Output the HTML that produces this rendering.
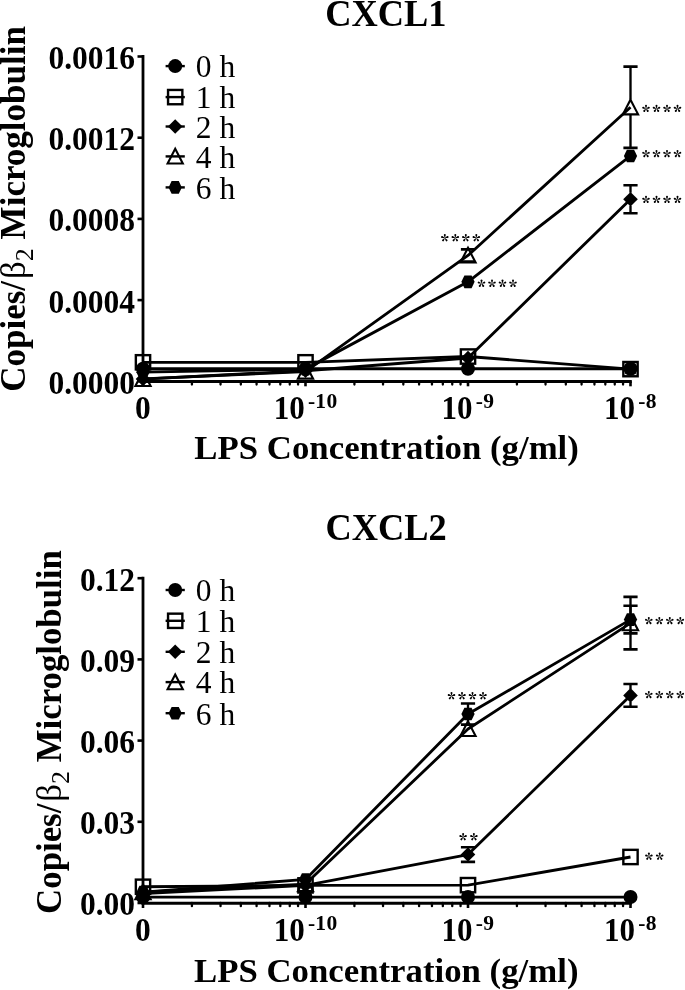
<!DOCTYPE html>
<html><head><meta charset="utf-8"><style>
*{margin:0;padding:0}
body{background:#fff;width:685px;height:990px;overflow:hidden}
svg{display:block;filter:grayscale(1)}
text{font-family:"Liberation Serif",serif;fill:#000}
.ti{font-weight:bold;font-size:36.4px}
.tk{font-weight:bold;font-size:31.5px}
.sup{font-weight:bold;font-size:21.5px}
.xl{font-weight:bold;font-size:34.8px}
.yl{font-weight:bold;font-size:35px}
.lg{font-size:31.5px}
</style></head>
<body><svg width="685" height="990" viewBox="0 0 685 990">
<rect width="685" height="990" fill="#fff"/>
<defs><g id="ast"><path d="M0.15 -0.2L1 -2.9A1.0 1.0 0 1 0 -1 -2.9L-0.15 -0.2Z" fill="#000"/><path d="M0.24 0.08L3.07 0.05A1.0 1.0 0 1 0 2.45 -1.85L0.14 -0.2Z" fill="#000"/><path d="M-0 0.25L0.9 2.93A1.0 1.0 0 1 0 2.51 1.76L0.24 0.07Z" fill="#000"/><path d="M-0.24 0.07L-2.51 1.76A1.0 1.0 0 1 0 -0.9 2.93L0 0.25Z" fill="#000"/><path d="M-0.14 -0.2L-2.45 -1.85A1.0 1.0 0 1 0 -3.07 0.05L-0.24 0.08Z" fill="#000"/></g></defs>
<path d="M143 55.1V382.7" stroke="#000" stroke-width="2.8" fill="none"/>
<path d="M137.5 381.3H143" stroke="#000" stroke-width="2.6"/>
<path d="M137.5 300.1H143" stroke="#000" stroke-width="2.6"/>
<path d="M137.5 218.9H143" stroke="#000" stroke-width="2.6"/>
<path d="M137.5 137.7H143" stroke="#000" stroke-width="2.6"/>
<path d="M137.5 56.5H143" stroke="#000" stroke-width="2.6"/>
<path d="M141.6 381.5H631.8" stroke="#000" stroke-width="2.9"/>
<path d="M143 381.3V386.3" stroke="#000" stroke-width="2.6"/>
<path d="M305.5 381.3V386.3" stroke="#000" stroke-width="2.6"/>
<path d="M468 381.3V386.3" stroke="#000" stroke-width="2.6"/>
<path d="M630.5 381.3V386.3" stroke="#000" stroke-width="2.6"/>
<path d="M191.92 381.3V384.5" stroke="#000" stroke-width="2.3" stroke-linecap="round"/>
<path d="M220.53 381.3V384.5" stroke="#000" stroke-width="2.3" stroke-linecap="round"/>
<path d="M240.83 381.3V384.5" stroke="#000" stroke-width="2.3" stroke-linecap="round"/>
<path d="M256.58 381.3V384.5" stroke="#000" stroke-width="2.3" stroke-linecap="round"/>
<path d="M269.45 381.3V384.5" stroke="#000" stroke-width="2.3" stroke-linecap="round"/>
<path d="M280.33 381.3V384.5" stroke="#000" stroke-width="2.3" stroke-linecap="round"/>
<path d="M289.75 381.3V384.5" stroke="#000" stroke-width="2.3" stroke-linecap="round"/>
<path d="M298.06 381.3V384.5" stroke="#000" stroke-width="2.3" stroke-linecap="round"/>
<path d="M354.42 381.3V384.5" stroke="#000" stroke-width="2.3" stroke-linecap="round"/>
<path d="M383.03 381.3V384.5" stroke="#000" stroke-width="2.3" stroke-linecap="round"/>
<path d="M403.33 381.3V384.5" stroke="#000" stroke-width="2.3" stroke-linecap="round"/>
<path d="M419.08 381.3V384.5" stroke="#000" stroke-width="2.3" stroke-linecap="round"/>
<path d="M431.95 381.3V384.5" stroke="#000" stroke-width="2.3" stroke-linecap="round"/>
<path d="M442.83 381.3V384.5" stroke="#000" stroke-width="2.3" stroke-linecap="round"/>
<path d="M452.25 381.3V384.5" stroke="#000" stroke-width="2.3" stroke-linecap="round"/>
<path d="M460.56 381.3V384.5" stroke="#000" stroke-width="2.3" stroke-linecap="round"/>
<path d="M516.92 381.3V384.5" stroke="#000" stroke-width="2.3" stroke-linecap="round"/>
<path d="M545.53 381.3V384.5" stroke="#000" stroke-width="2.3" stroke-linecap="round"/>
<path d="M565.83 381.3V384.5" stroke="#000" stroke-width="2.3" stroke-linecap="round"/>
<path d="M581.58 381.3V384.5" stroke="#000" stroke-width="2.3" stroke-linecap="round"/>
<path d="M594.45 381.3V384.5" stroke="#000" stroke-width="2.3" stroke-linecap="round"/>
<path d="M605.33 381.3V384.5" stroke="#000" stroke-width="2.3" stroke-linecap="round"/>
<path d="M614.75 381.3V384.5" stroke="#000" stroke-width="2.3" stroke-linecap="round"/>
<path d="M623.06 381.3V384.5" stroke="#000" stroke-width="2.3" stroke-linecap="round"/>
<polyline points="143,368.71 305.5,368.71 468,368.71 630.5,368.71" fill="none" stroke="#000" stroke-width="2.85" stroke-linejoin="round"/>
<circle cx="143" cy="368.71" r="7" fill="#000"/>
<circle cx="305.5" cy="368.71" r="7" fill="#000"/>
<circle cx="468" cy="368.71" r="7" fill="#000"/>
<circle cx="630.5" cy="368.71" r="7" fill="#000"/>
<polyline points="143,362.3 305.5,362.3 468,356.53 630.5,369.12" fill="none" stroke="#000" stroke-width="2.85" stroke-linejoin="round"/>
<rect x="135.85" y="355.15" width="14.3" height="14.3" fill="none" stroke="#000" stroke-width="2.4"/>
<rect x="298.35" y="355.15" width="14.3" height="14.3" fill="none" stroke="#000" stroke-width="2.4"/>
<rect x="460.85" y="349.38" width="14.3" height="14.3" fill="none" stroke="#000" stroke-width="2.4"/>
<rect x="623.35" y="361.97" width="14.3" height="14.3" fill="none" stroke="#000" stroke-width="2.4"/>
<polyline points="143,379.07 305.5,370.74 468,357.96 630.5,199.21" fill="none" stroke="#000" stroke-width="2.85" stroke-linejoin="round"/>
<path d="M630.5 185.2V192.71M630.5 205.71V213.22" stroke="#000" stroke-width="2.35" fill="none"/>
<path d="M623.4 185.2H637.6M623.4 213.22H637.6" stroke="#000" stroke-width="2.6" fill="none"/>
<path d="M143 371.77L150.3 379.07L143 386.37L135.7 379.07Z" fill="#000"/>
<path d="M305.5 363.44L312.8 370.74L305.5 378.04L298.2 370.74Z" fill="#000"/>
<path d="M468 350.66L475.3 357.96L468 365.26L460.7 357.96Z" fill="#000"/>
<path d="M630.5 191.91L637.8 199.21L630.5 206.51L623.2 199.21Z" fill="#000"/>
<polyline points="143,378.86 305.5,371.56 468,255.44 630.5,107.25" fill="none" stroke="#000" stroke-width="2.85" stroke-linejoin="round"/>
<path d="M468 249.35V247.64M468 262.94V261.53" stroke="#000" stroke-width="2.35" fill="none"/>
<path d="M460.9 249.35H475.1M460.9 261.53H475.1" stroke="#000" stroke-width="2.6" fill="none"/>
<path d="M630.5 66.65V99.45M630.5 114.75V147.85" stroke="#000" stroke-width="2.35" fill="none"/>
<path d="M623.4 66.65H637.6M623.4 147.85H637.6" stroke="#000" stroke-width="2.6" fill="none"/>
<path d="M143 371.26L150.6 385.96L135.4 385.96Z" fill="none" stroke="#000" stroke-width="2.1"/>
<path d="M305.5 363.96L313.1 378.66L297.9 378.66Z" fill="none" stroke="#000" stroke-width="2.1"/>
<path d="M468 247.84L475.6 262.54L460.4 262.54Z" fill="none" stroke="#000" stroke-width="2.1"/>
<path d="M630.5 99.65L638.1 114.35L622.9 114.35Z" fill="none" stroke="#000" stroke-width="2.1"/>
<polyline points="143,372.17 305.5,369.12 468,281.83 630.5,155.97" fill="none" stroke="#000" stroke-width="2.85" stroke-linejoin="round"/>
<path d="M136.4 372.17L139.4 365.87L146.6 365.87L149.6 372.17L146.6 378.47L139.4 378.47Z" fill="#000"/>
<path d="M298.9 369.12L301.9 362.82L309.1 362.82L312.1 369.12L309.1 375.42L301.9 375.42Z" fill="#000"/>
<path d="M461.4 281.83L464.4 275.53L471.6 275.53L474.6 281.83L471.6 288.13L464.4 288.13Z" fill="#000"/>
<path d="M623.9 155.97L626.9 149.67L634.1 149.67L637.1 155.97L634.1 162.27L626.9 162.27Z" fill="#000"/>
<rect x="625.3" y="363.8" width="10.4" height="10.4" fill="#000"/>
<path d="M143 576.8V904.4" stroke="#000" stroke-width="2.8" fill="none"/>
<path d="M137.5 903H143" stroke="#000" stroke-width="2.6"/>
<path d="M137.5 821.8H143" stroke="#000" stroke-width="2.6"/>
<path d="M137.5 740.6H143" stroke="#000" stroke-width="2.6"/>
<path d="M137.5 659.4H143" stroke="#000" stroke-width="2.6"/>
<path d="M137.5 578.2H143" stroke="#000" stroke-width="2.6"/>
<path d="M141.6 903.2H631.8" stroke="#000" stroke-width="2.9"/>
<path d="M143 903V908" stroke="#000" stroke-width="2.6"/>
<path d="M305.5 903V908" stroke="#000" stroke-width="2.6"/>
<path d="M468 903V908" stroke="#000" stroke-width="2.6"/>
<path d="M630.5 903V908" stroke="#000" stroke-width="2.6"/>
<path d="M191.92 903V906.2" stroke="#000" stroke-width="2.3" stroke-linecap="round"/>
<path d="M220.53 903V906.2" stroke="#000" stroke-width="2.3" stroke-linecap="round"/>
<path d="M240.83 903V906.2" stroke="#000" stroke-width="2.3" stroke-linecap="round"/>
<path d="M256.58 903V906.2" stroke="#000" stroke-width="2.3" stroke-linecap="round"/>
<path d="M269.45 903V906.2" stroke="#000" stroke-width="2.3" stroke-linecap="round"/>
<path d="M280.33 903V906.2" stroke="#000" stroke-width="2.3" stroke-linecap="round"/>
<path d="M289.75 903V906.2" stroke="#000" stroke-width="2.3" stroke-linecap="round"/>
<path d="M298.06 903V906.2" stroke="#000" stroke-width="2.3" stroke-linecap="round"/>
<path d="M354.42 903V906.2" stroke="#000" stroke-width="2.3" stroke-linecap="round"/>
<path d="M383.03 903V906.2" stroke="#000" stroke-width="2.3" stroke-linecap="round"/>
<path d="M403.33 903V906.2" stroke="#000" stroke-width="2.3" stroke-linecap="round"/>
<path d="M419.08 903V906.2" stroke="#000" stroke-width="2.3" stroke-linecap="round"/>
<path d="M431.95 903V906.2" stroke="#000" stroke-width="2.3" stroke-linecap="round"/>
<path d="M442.83 903V906.2" stroke="#000" stroke-width="2.3" stroke-linecap="round"/>
<path d="M452.25 903V906.2" stroke="#000" stroke-width="2.3" stroke-linecap="round"/>
<path d="M460.56 903V906.2" stroke="#000" stroke-width="2.3" stroke-linecap="round"/>
<path d="M516.92 903V906.2" stroke="#000" stroke-width="2.3" stroke-linecap="round"/>
<path d="M545.53 903V906.2" stroke="#000" stroke-width="2.3" stroke-linecap="round"/>
<path d="M565.83 903V906.2" stroke="#000" stroke-width="2.3" stroke-linecap="round"/>
<path d="M581.58 903V906.2" stroke="#000" stroke-width="2.3" stroke-linecap="round"/>
<path d="M594.45 903V906.2" stroke="#000" stroke-width="2.3" stroke-linecap="round"/>
<path d="M605.33 903V906.2" stroke="#000" stroke-width="2.3" stroke-linecap="round"/>
<path d="M614.75 903V906.2" stroke="#000" stroke-width="2.3" stroke-linecap="round"/>
<path d="M623.06 903V906.2" stroke="#000" stroke-width="2.3" stroke-linecap="round"/>
<polyline points="143,897.05 305.5,897.05 468,897.05 630.5,897.05" fill="none" stroke="#000" stroke-width="2.85" stroke-linejoin="round"/>
<circle cx="143" cy="897.05" r="7" fill="#000"/>
<circle cx="305.5" cy="897.05" r="7" fill="#000"/>
<circle cx="468" cy="897.05" r="7" fill="#000"/>
<circle cx="630.5" cy="897.05" r="7" fill="#000"/>
<polyline points="143,886.76 305.5,885.41 468,885.14 630.5,856.99" fill="none" stroke="#000" stroke-width="2.85" stroke-linejoin="round"/>
<rect x="135.85" y="879.61" width="14.3" height="14.3" fill="none" stroke="#000" stroke-width="2.4"/>
<rect x="298.35" y="878.26" width="14.3" height="14.3" fill="none" stroke="#000" stroke-width="2.4"/>
<rect x="460.85" y="877.99" width="14.3" height="14.3" fill="none" stroke="#000" stroke-width="2.4"/>
<rect x="623.35" y="849.84" width="14.3" height="14.3" fill="none" stroke="#000" stroke-width="2.4"/>
<polyline points="143,893.53 305.5,885.41 468,854.55 630.5,695.4" fill="none" stroke="#000" stroke-width="2.85" stroke-linejoin="round"/>
<path d="M468 847.24V848.05M468 861.05V861.86" stroke="#000" stroke-width="2.35" fill="none"/>
<path d="M460.9 847.24H475.1M460.9 861.86H475.1" stroke="#000" stroke-width="2.6" fill="none"/>
<path d="M630.5 684.03V688.9M630.5 701.9V706.77" stroke="#000" stroke-width="2.35" fill="none"/>
<path d="M623.4 684.03H637.6M623.4 706.77H637.6" stroke="#000" stroke-width="2.6" fill="none"/>
<path d="M143 886.23L150.3 893.53L143 900.83L135.7 893.53Z" fill="#000"/>
<path d="M305.5 878.11L312.8 885.41L305.5 892.71L298.2 885.41Z" fill="#000"/>
<path d="M468 847.25L475.3 854.55L468 861.85L460.7 854.55Z" fill="#000"/>
<path d="M630.5 688.1L637.8 695.4L630.5 702.7L623.2 695.4Z" fill="#000"/>
<polyline points="143,892.17 305.5,884.05 468,728.96 630.5,623.13" fill="none" stroke="#000" stroke-width="2.85" stroke-linejoin="round"/>
<path d="M630.5 596.88V615.33M630.5 630.63V649.39" stroke="#000" stroke-width="2.35" fill="none"/>
<path d="M623.4 596.88H637.6M623.4 649.39H637.6" stroke="#000" stroke-width="2.6" fill="none"/>
<path d="M143 884.57L150.6 899.27L135.4 899.27Z" fill="none" stroke="#000" stroke-width="2.1"/>
<path d="M305.5 876.45L313.1 891.15L297.9 891.15Z" fill="none" stroke="#000" stroke-width="2.1"/>
<path d="M468 721.36L475.6 736.06L460.4 736.06Z" fill="none" stroke="#000" stroke-width="2.1"/>
<path d="M630.5 615.53L638.1 630.23L622.9 630.23Z" fill="none" stroke="#000" stroke-width="2.1"/>
<polyline points="143,892.17 305.5,879.45 468,714.07 630.5,619.61" fill="none" stroke="#000" stroke-width="2.85" stroke-linejoin="round"/>
<path d="M468 703.52V708.07M468 720.07V724.63" stroke="#000" stroke-width="2.35" fill="none"/>
<path d="M460.9 703.52H475.1M460.9 724.63H475.1" stroke="#000" stroke-width="2.6" fill="none"/>
<path d="M630.5 605.81V613.61M630.5 625.61V633.42" stroke="#000" stroke-width="2.35" fill="none"/>
<path d="M623.4 605.81H637.6M623.4 633.42H637.6" stroke="#000" stroke-width="2.6" fill="none"/>
<path d="M136.4 892.17L139.4 885.87L146.6 885.87L149.6 892.17L146.6 898.47L139.4 898.47Z" fill="#000"/>
<path d="M298.9 879.45L301.9 873.15L309.1 873.15L312.1 879.45L309.1 885.75L301.9 885.75Z" fill="#000"/>
<path d="M461.4 714.07L464.4 707.77L471.6 707.77L474.6 714.07L471.6 720.37L464.4 720.37Z" fill="#000"/>
<path d="M623.9 619.61L626.9 613.31L634.1 613.31L637.1 619.61L634.1 625.91L626.9 625.91Z" fill="#000"/>
<path d="M165.6 66.1H184.8" stroke="#000" stroke-width="2.4"/>
<circle cx="175.2" cy="66.1" r="7" fill="#000"/>
<text x="195.8" y="77.4" class="lg">0 h</text>
<path d="M165.6 97.1H184.8" stroke="#000" stroke-width="2.4"/>
<rect x="168.05" y="89.95" width="14.3" height="14.3" fill="none" stroke="#000" stroke-width="2.4"/>
<text x="195.8" y="108.4" class="lg">1 h</text>
<path d="M165.6 126.5H184.8" stroke="#000" stroke-width="2.4"/>
<path d="M175.2 119.2L182.5 126.5L175.2 133.8L167.9 126.5Z" fill="#000"/>
<text x="195.8" y="137.8" class="lg">2 h</text>
<path d="M165.6 156.4H184.8" stroke="#000" stroke-width="2.4"/>
<path d="M175.2 148.8L182.8 163.5L167.6 163.5Z" fill="none" stroke="#000" stroke-width="2.1"/>
<text x="195.8" y="167.7" class="lg">4 h</text>
<path d="M165.6 187.4H184.8" stroke="#000" stroke-width="2.4"/>
<path d="M168.6 187.4L171.6 181.1L178.8 181.1L181.8 187.4L178.8 193.7L171.6 193.7Z" fill="#000"/>
<text x="195.8" y="198.7" class="lg">6 h</text>
<path d="M165.6 590H184.8" stroke="#000" stroke-width="2.4"/>
<circle cx="175.2" cy="590" r="7" fill="#000"/>
<text x="195.8" y="601.3" class="lg">0 h</text>
<path d="M165.6 620.8H184.8" stroke="#000" stroke-width="2.4"/>
<rect x="168.05" y="613.65" width="14.3" height="14.3" fill="none" stroke="#000" stroke-width="2.4"/>
<text x="195.8" y="632.1" class="lg">1 h</text>
<path d="M165.6 651.8H184.8" stroke="#000" stroke-width="2.4"/>
<path d="M175.2 644.5L182.5 651.8L175.2 659.1L167.9 651.8Z" fill="#000"/>
<text x="195.8" y="663.1" class="lg">2 h</text>
<path d="M165.6 682.1H184.8" stroke="#000" stroke-width="2.4"/>
<path d="M175.2 674.5L182.8 689.2L167.6 689.2Z" fill="none" stroke="#000" stroke-width="2.1"/>
<text x="195.8" y="693.4" class="lg">4 h</text>
<path d="M165.6 713.2H184.8" stroke="#000" stroke-width="2.4"/>
<path d="M168.6 713.2L171.6 706.9L178.8 706.9L181.8 713.2L178.8 719.5L171.6 719.5Z" fill="#000"/>
<text x="195.8" y="724.5" class="lg">6 h</text>
<text transform="translate(135,393.7) scale(1.0,1.07)" class="tk" text-anchor="end">0.0000</text>
<text transform="translate(135,312.5) scale(1.0,1.07)" class="tk" text-anchor="end">0.0004</text>
<text transform="translate(135,231.3) scale(1.0,1.07)" class="tk" text-anchor="end">0.0008</text>
<text transform="translate(135,150.1) scale(1.0,1.07)" class="tk" text-anchor="end">0.0012</text>
<text transform="translate(135,68.9) scale(1.0,1.07)" class="tk" text-anchor="end">0.0016</text>
<text transform="translate(135,915.4) scale(1.0,1.07)" class="tk" text-anchor="end">0.00</text>
<text transform="translate(135,834.2) scale(1.0,1.07)" class="tk" text-anchor="end">0.03</text>
<text transform="translate(135,753) scale(1.0,1.07)" class="tk" text-anchor="end">0.06</text>
<text transform="translate(135,671.8) scale(1.0,1.07)" class="tk" text-anchor="end">0.09</text>
<text transform="translate(135,590.6) scale(1.0,1.07)" class="tk" text-anchor="end">0.12</text>
<text transform="translate(143,419) scale(1.0,1.07)" class="tk" text-anchor="middle">0</text>
<text transform="translate(273.72,419) scale(0.985,1.07)" class="tk">10</text>
<text x="307.92" y="407.9" class="sup" letter-spacing="0.3">-10</text>
<text transform="translate(441.6,419) scale(0.985,1.07)" class="tk">10</text>
<text x="475.8" y="407.9" class="sup" letter-spacing="0.3">-9</text>
<text transform="translate(604.1,419) scale(0.985,1.07)" class="tk">10</text>
<text x="638.3" y="407.9" class="sup" letter-spacing="0.3">-8</text>
<text transform="translate(143,941) scale(1.0,1.07)" class="tk" text-anchor="middle">0</text>
<text transform="translate(273.72,941) scale(0.985,1.07)" class="tk">10</text>
<text x="307.92" y="929.9" class="sup" letter-spacing="0.3">-10</text>
<text transform="translate(441.6,941) scale(0.985,1.07)" class="tk">10</text>
<text x="475.8" y="929.9" class="sup" letter-spacing="0.3">-9</text>
<text transform="translate(604.1,941) scale(0.985,1.07)" class="tk">10</text>
<text x="638.3" y="929.9" class="sup" letter-spacing="0.3">-8</text>
<text transform="translate(385.9,26) scale(1.0,1.04)" class="ti" text-anchor="middle">CXCL1</text>
<text transform="translate(386.1,540) scale(1.0,1.04)" class="ti" text-anchor="middle">CXCL2</text>
<text transform="translate(386.6,459.2) scale(1.0,0.97)" class="xl" text-anchor="middle">LPS Concentration (g/ml)</text>
<text transform="translate(386.2,981.6) scale(1.0,0.97)" class="xl" text-anchor="middle">LPS Concentration (g/ml)</text>
<text transform="translate(25,391.8) rotate(-90)" class="yl" style="font-size:35px">Copies/<tspan font-weight="normal" dx="2">β</tspan><tspan font-weight="normal" font-size="26px" dy="7.7">2</tspan><tspan dy="-7.7"> Microglobulin</tspan></text>
<text transform="translate(61.3,913.9) rotate(-90)" class="yl" style="font-size:34.8px">Copies/<tspan font-weight="normal" dx="2">β</tspan><tspan font-weight="normal" font-size="26px" dy="7.7">2</tspan><tspan dy="-7.7"> Microglobulin</tspan></text>
<use href="#ast" x="646" y="108.58"/>
<use href="#ast" x="656.5" y="108.58"/>
<use href="#ast" x="667" y="108.58"/>
<use href="#ast" x="677.5" y="108.58"/>
<use href="#ast" x="646" y="153.78"/>
<use href="#ast" x="656.5" y="153.78"/>
<use href="#ast" x="667" y="153.78"/>
<use href="#ast" x="677.5" y="153.78"/>
<use href="#ast" x="646" y="199.58"/>
<use href="#ast" x="656.5" y="199.58"/>
<use href="#ast" x="667" y="199.58"/>
<use href="#ast" x="677.5" y="199.58"/>
<use href="#ast" x="444.8" y="237.88"/>
<use href="#ast" x="455.3" y="237.88"/>
<use href="#ast" x="465.8" y="237.88"/>
<use href="#ast" x="476.3" y="237.88"/>
<use href="#ast" x="481.5" y="283.48"/>
<use href="#ast" x="492" y="283.48"/>
<use href="#ast" x="502.5" y="283.48"/>
<use href="#ast" x="513" y="283.48"/>
<use href="#ast" x="648.8" y="620.78"/>
<use href="#ast" x="659.3" y="620.78"/>
<use href="#ast" x="669.8" y="620.78"/>
<use href="#ast" x="680.3" y="620.78"/>
<use href="#ast" x="648.8" y="694.78"/>
<use href="#ast" x="659.3" y="694.78"/>
<use href="#ast" x="669.8" y="694.78"/>
<use href="#ast" x="680.3" y="694.78"/>
<use href="#ast" x="451.5" y="695.88"/>
<use href="#ast" x="462" y="695.88"/>
<use href="#ast" x="472.5" y="695.88"/>
<use href="#ast" x="483" y="695.88"/>
<use href="#ast" x="463.1" y="836.88"/>
<use href="#ast" x="473.9" y="836.88"/>
<use href="#ast" x="648.9" y="856.38"/>
<use href="#ast" x="659.7" y="856.38"/>
</svg></body></html>
